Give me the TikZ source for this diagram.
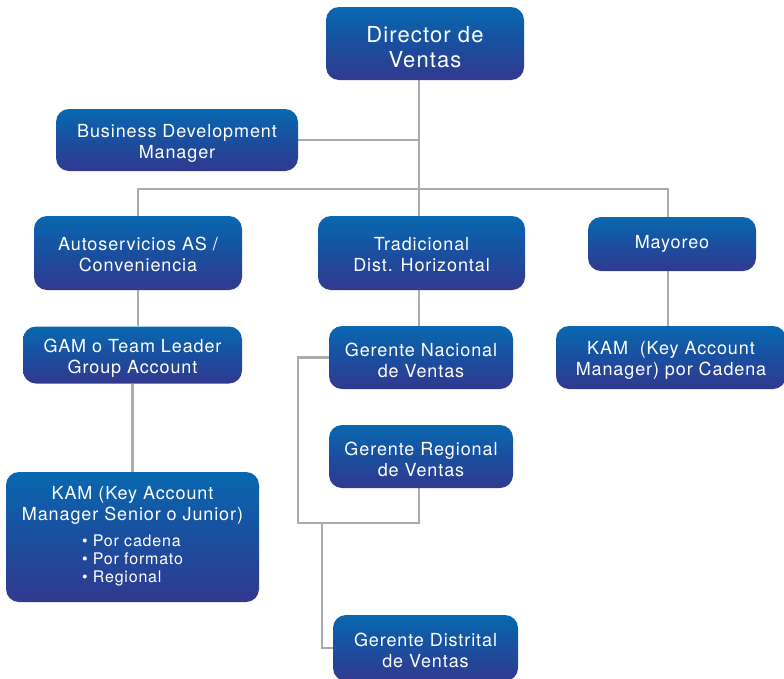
\documentclass[tikz,border=0pt]{standalone}
\usepackage{fontspec}
\setmainfont[LetterSpace=5]{TeX Gyre Heros}
\usetikzlibrary{backgrounds}
\definecolor{btop}{HTML}{0868B0}
\definecolor{bmid}{HTML}{1A4F9F}
\definecolor{bbot}{HTML}{31398F}
\definecolor{conn}{HTML}{A9ABAE}
\newcommand{\tp}{\rule{0pt}{19pt}}
\newcommand{\tps}{\rule{0pt}{17pt}}
\newcommand{\tpd}{\rule{0pt}{24pt}}
\tikzset{
  box/.style={rounded corners=13pt, top color=btop, bottom color=bbot, middle color=bmid,
    text=white, align=center, inner sep=0pt, font=\fontsize{18}{21}\selectfont},
  connector/.style={draw=conn, line width=2.8pt}
}
\begin{document}
\begin{tikzpicture}[x=1pt,y=-1pt]
\useasboundingbox (0,0) rectangle (784,678);
\clip (0,0) rectangle (784,678);
\coordinate (j1) at (419,189);
\coordinate (bl) at (138,189);
\coordinate (br) at (668,189);
\coordinate (lp) at (298,523);
\coordinate (d1) at (322,523);
\node[box, minimum width=198pt, minimum height=73pt, font=\fontsize{22}{25}\selectfont] (dir) at (425,43.5) {\tpd Director de\\Ventas};
\node[box, minimum width=242pt, minimum height=62pt] (bdm) at (177,140) {\tp Business Development\\Manager};
\node[box, minimum width=208pt, minimum height=74pt] (auto) at (138,253) {\tps Autoservicios AS /\\Conveniencia};
\node[box, minimum width=207pt, minimum height=74pt] (trad) at (421.5,253) {\tps Tradicional\\Dist. Horizontal};
\node[box, minimum width=168pt, minimum height=54pt] (may) at (672,244) {Mayoreo};
\node[box, minimum width=219pt, minimum height=57pt] (gam) at (132.5,355) {\tp GAM o Team Leader\\Group Account};
\node[box, minimum width=184pt, minimum height=63pt] (nac) at (421,357.5) {\tp Gerente Nacional\\de Ventas};
\node[box, minimum width=230pt, minimum height=63pt] (kam2) at (671,357.5) {\tp KAM\ \ (Key Account\\Manager) por Cadena};
\node[box, minimum width=184pt, minimum height=63pt] (reg) at (421,456.5) {\tp Gerente Regional\\de Ventas};
\node[box, minimum width=253pt, minimum height=130pt] (kam) at (132.5,537) {KAM (Key Account\\Manager Senior o Junior)\\[9pt]
  {\fontsize{16}{18}\selectfont\begin{tabular}{@{}l@{}}\textbullet\ Por cadena\\ \textbullet\ Por formato\\ \textbullet\ Regional\end{tabular}}};
\node[box, minimum width=185pt, minimum height=66pt] (dis) at (425.5,648) {\tp Gerente Distrital\\de Ventas};
\begin{pgfonlayer}{background}
\draw[connector] (dir.south -| j1) -- (j1);
\draw[connector] (bdm.east) -- (bdm.east -| j1);
\draw[connector] (auto.north -| bl) -- (bl) -- (br) -- (may.north -| br);
\draw[connector] (j1) -- (trad.north -| j1);
\draw[connector] (auto.south -| bl) -- (gam.north -| bl);
\draw[connector] (gam.south) -- (kam.north);
\draw[connector] (trad.south -| j1) -- (nac.north -| j1);
\draw[connector] (may.south -| br) -- (kam2.north -| br);
\draw[connector] (nac.west) -| (lp) -| (reg.south -| j1);
\draw[connector] (d1) |- (dis.west);
\end{pgfonlayer}
\end{tikzpicture}
\end{document}
